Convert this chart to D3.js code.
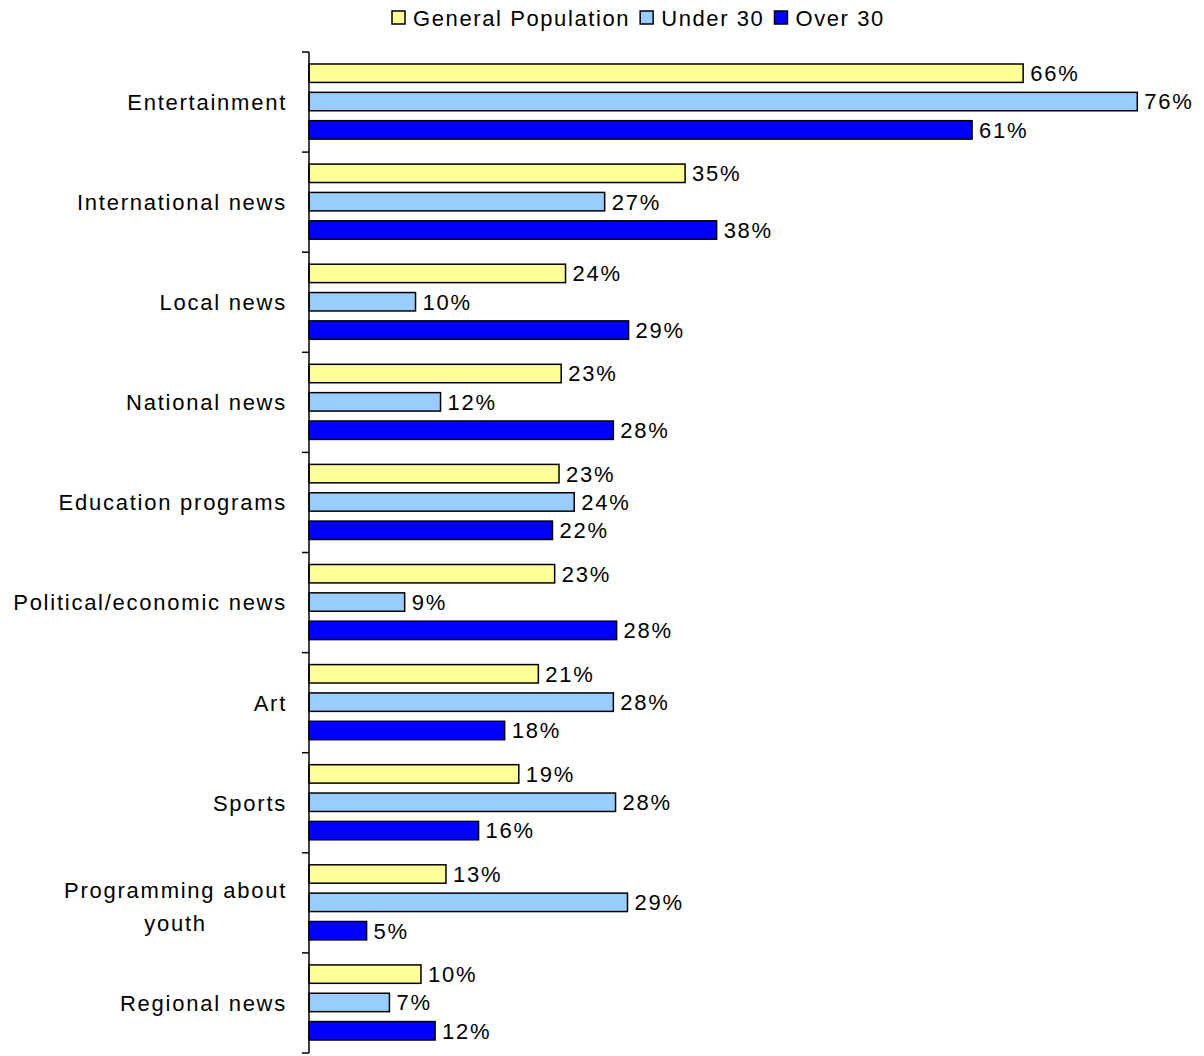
<!DOCTYPE html>
<html>
<head>
<meta charset="UTF-8">
<title>Programme interest</title>
<style>
    body { margin: 0; background: #fff; }
    svg text { font-family: "Liberation Sans", Arial, sans-serif; fill: #000; }
    .lbl { font-size: 22px; letter-spacing: 1.75px; }
</style>
</head>
<body>
<svg id="chart" width="1204" height="1056"></svg>
<script src="https://d3js.org/d3.v7.min.js"></script>
<script>
    // data
    let categories = ["Entertainment", "International news", "Local news", "National news",
        "Education programs", "Political/economic news", "Art", "Sports",
        "Programming about youth", "Regional news"];
    let seriesNames = ["General Population", "Under 30", "Over 30"];
    let general = [65.7, 34.6, 23.6, 23.2, 23.0, 22.6, 21.1, 19.3, 12.6, 10.3];
    let under30 = [76.2, 27.2, 9.8, 12.1, 24.4, 8.8, 28.0, 28.2, 29.3, 7.4];
    let over30  = [61.0, 37.5, 29.4, 28.0, 22.4, 28.3, 18.0, 15.6, 5.3, 11.6];
    let colors = ["#FFFF99", "#99CCFF", "#0000FF"];

    let series = [general, under30, over30];

    let svg = d3.select("#chart");
    let plotLeft = 309, plotTop = 52, plotBottom = 1053;

    let x = d3.scaleLinear().domain([0, 80]).range([plotLeft, plotLeft + 80 * 10.87]);
    let y = d3.scaleBand().domain(categories).range([plotTop, plotBottom]);
    let inner = d3.scaleBand().domain(seriesNames).range([12, y.bandwidth() - 13]).paddingInner(0.35);

    // bars
    let groups = svg.append("g").selectAll("g")
        .data(categories)
        .enter().append("g")
        .attr("transform", d => "translate(0," + y(d) + ")");

    groups.selectAll("rect")
        .data((d, i) => series.map((s, j) => ({name: seriesNames[j], v: s[i], c: colors[j]})))
        .enter().append("rect")
        .attr("x", x(0))
        .attr("y", d => inner(d.name))
        .attr("width", d => x(d.v) - x(0))
        .attr("height", inner.bandwidth())
        .attr("fill", d => d.c)
        .attr("stroke", "#000")
        .attr("stroke-width", 1.5);

    groups.selectAll("text.val")
        .data((d, i) => series.map((s, j) => ({name: seriesNames[j], v: s[i]})))
        .enter().append("text")
        .attr("class", "lbl val")
        .attr("x", d => x(d.v) + 7)
        .attr("y", d => inner(d.name) + inner.bandwidth() / 2)
        .attr("dy", "0.36em")
        .text(d => Math.round(d.v) + "%");

    // y axis
    let axis = svg.append("g");
    axis.append("line")
        .attr("x1", plotLeft).attr("x2", plotLeft)
        .attr("y1", plotTop).attr("y2", plotBottom)
        .attr("stroke", "#000").attr("stroke-width", 1.5);
    axis.selectAll("line.tick")
        .data(d3.range(categories.length + 1))
        .enter().append("line")
        .attr("class", "tick")
        .attr("x1", plotLeft - 7).attr("x2", plotLeft)
        .attr("y1", i => plotTop + i * y.step()).attr("y2", i => plotTop + i * y.step())
        .attr("stroke", "#000").attr("stroke-width", 1.5);

    // category labels, wrapping the long one
    categories.forEach(c => {
        let cy = y(c) + y.bandwidth() / 2;
        if (c === "Programming about youth") {
            let t1 = svg.append("text").attr("class", "lbl")
                .attr("x", 287).attr("y", cy - 13).attr("dy", "0.36em")
                .attr("text-anchor", "end").text("Programming about");
            let w = t1.node().getComputedTextLength();
            svg.append("text").attr("class", "lbl")
                .attr("x", 287 - w / 2).attr("y", cy + 20).attr("dy", "0.36em")
                .attr("text-anchor", "middle").text("youth");
        } else {
            svg.append("text").attr("class", "lbl")
                .attr("x", 287).attr("y", cy).attr("dy", "0.36em")
                .attr("text-anchor", "end").text(c);
        }
    });

    // legend
    let legend = svg.append("g");
    let lx = 392;
    seriesNames.forEach((n, i) => {
        legend.append("rect")
            .attr("x", lx).attr("y", 11).attr("width", 13).attr("height", 13)
            .attr("fill", colors[i]).attr("stroke", "#000").attr("stroke-width", 1.5);
        let t = legend.append("text").attr("class", "lbl")
            .attr("x", lx + 21).attr("y", 18).attr("dy", "0.36em")
            .style("letter-spacing", "1.6px")
            .text(n);
        lx += 21 + t.node().getComputedTextLength() + 10;
    });
</script>
</body>
</html>
